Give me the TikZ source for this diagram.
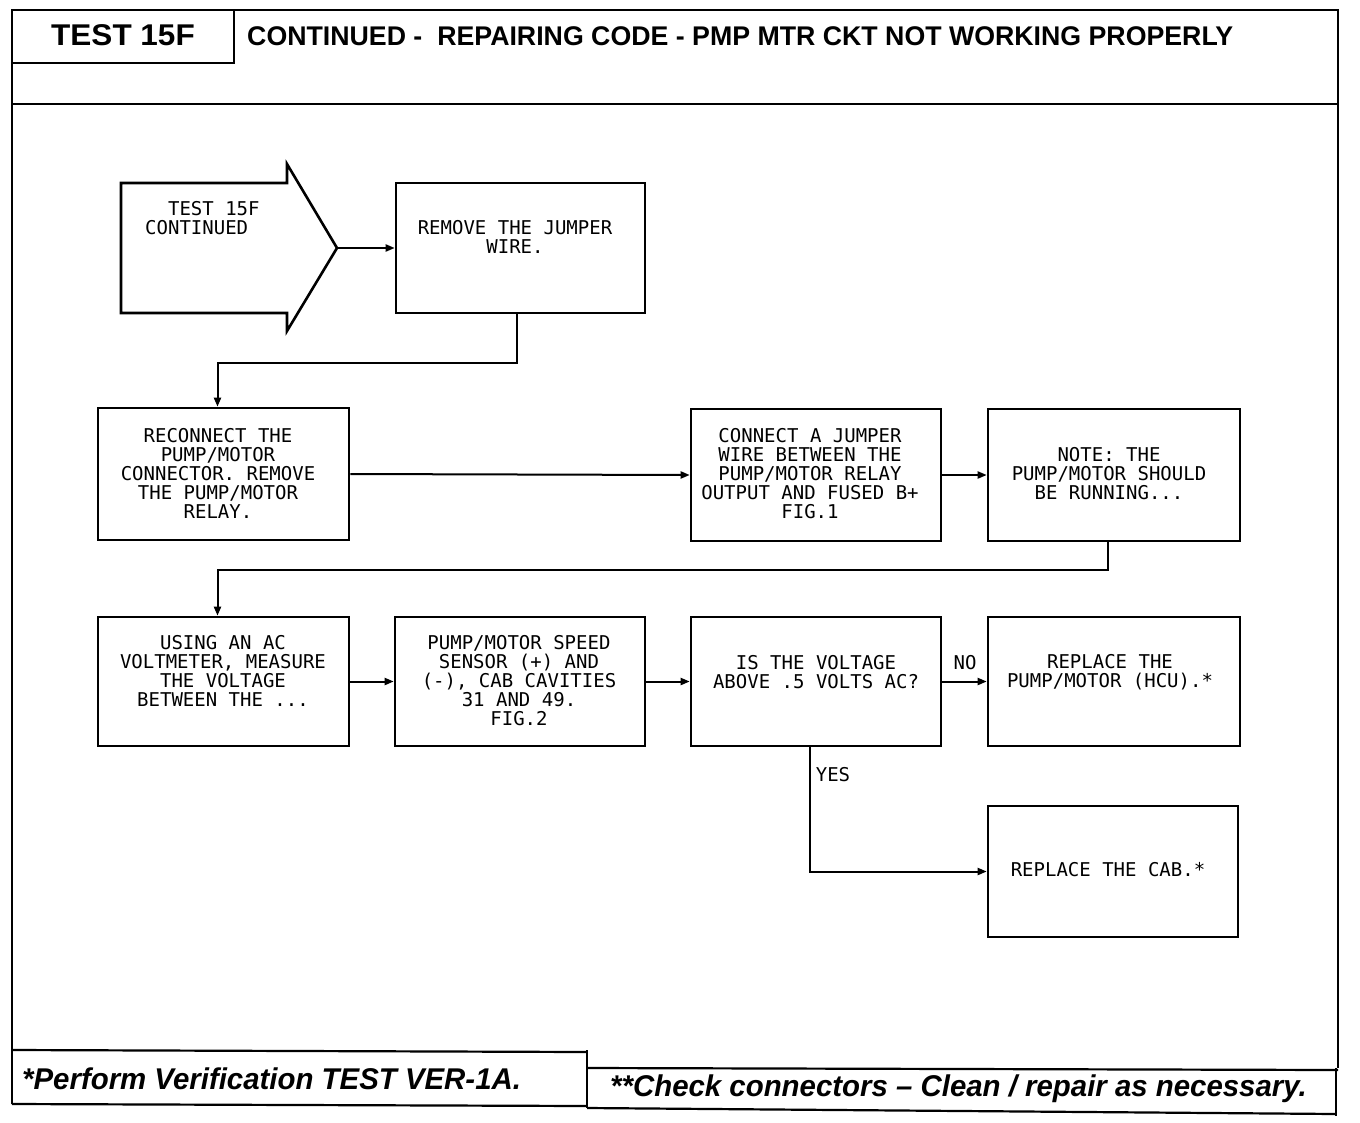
\documentclass[tikz,border=0pt]{standalone}
\usepackage{fontspec}
\usetikzlibrary{arrows.meta}
\newfontfamily\plotfont{DejaVu Sans Mono}
\newfontfamily\hdrfont{Liberation Sans}
\begin{document}
\begin{tikzpicture}[x=1pt,y=-1pt,
  frame/.style={line width=2.2pt},
  boxst/.style={draw,line width=2.6pt,rectangle,inner sep=0pt},
  conn/.style={line width=2pt,-{Triangle[length=9pt,width=7pt]}},
  txt/.style={font=\plotfont\fontsize{19}{19}\selectfont,align=center,inner sep=0pt},
  lbl/.style={font=\plotfont\fontsize{19}{19}\selectfont,inner sep=0pt}]
\useasboundingbox (0,0) rectangle (1360,1122);
% frame
\draw[frame] (12,1104) -- (12,10) -- (1338,10) -- (1338,1068);
\draw[frame] (12,104) -- (1338,104);
\draw[frame] (12,63) -- (234,63) -- (234,10);
% footer
\draw[frame] (12,1050) -- (587,1052);
\draw[frame] (12,1104) -- (587,1106);
\draw[frame] (587,1050) -- (587,1108);
\draw[frame] (587,1068) -- (1338,1070);
\draw[frame] (587,1108) -- (1336,1114);
\draw[frame] (1336,1068) -- (1336,1116);
\node[font=\hdrfont\bfseries\fontsize{30}{30}\selectfont,inner sep=0pt] (hdr) at (123,35) {\scalebox{1.05}[1]{TEST 15F}};
\node[font=\hdrfont\bfseries\fontsize{27}{27}\selectfont,inner sep=0pt,anchor=west] (title) at (247,36) {\scalebox{0.99}[1]{CONTINUED -\ \ REPAIRING CODE - PMP MTR CKT NOT WORKING PROPERLY}};
\node[font=\hdrfont\bfseries\itshape\fontsize{30}{30}\selectfont,inner sep=0pt,anchor=west] (foot1) at (22,1079) {\scalebox{0.98}[1]{*Perform Verification TEST VER-1A.}};
\node[font=\hdrfont\bfseries\itshape\fontsize{30}{30}\selectfont,inner sep=0pt,anchor=west] (foot2) at (610,1089) {\scalebox{0.98}[1]{**Check connectors \textendash{} Clean / repair as necessary.}};
% start arrow
\draw[line width=2.6pt,line join=miter] (121,183) -- (287,183) -- (287,164) -- (337,248) -- (287,331) -- (287,313) -- (121,313) -- cycle;
\coordinate (tip) at (337,248);
\node[txt,anchor=west,align=left] (t0) at (145,218) {\ \ TEST 15F\\CONTINUED};
% boxes
\node[boxst,minimum width=249,minimum height=130] (b1) at (520.5,248) {};
\node[boxst,minimum width=251,minimum height=132] (b2) at (223.5,474) {};
\node[boxst,minimum width=250,minimum height=132] (b3) at (816,475) {};
\node[boxst,minimum width=252,minimum height=132] (b4) at (1114,475) {};
\node[boxst,minimum width=251,minimum height=129] (b5) at (223.5,681.5) {};
\node[boxst,minimum width=250,minimum height=129] (b6) at (520,681.5) {};
\node[boxst,minimum width=250,minimum height=129] (b7) at (816,681.5) {};
\node[boxst,minimum width=252,minimum height=129] (b8) at (1114,681.5) {};
\node[boxst,minimum width=250,minimum height=131] (b9) at (1113,871.5) {};
% texts
\node[txt] (t1) at (515,237) {REMOVE THE JUMPER\\WIRE.};
\node[txt] (t2) at (218,473) {RECONNECT THE\\PUMP/MOTOR\\CONNECTOR. REMOVE\\THE PUMP/MOTOR\\RELAY.};
\node[txt] (t3) at (810,474) {CONNECT A JUMPER\\WIRE BETWEEN THE\\PUMP/MOTOR RELAY\\OUTPUT AND FUSED B+\\FIG.1};
\node[txt] (t4) at (1109,474) {NOTE: THE\\PUMP/MOTOR SHOULD\\BE RUNNING...};
\node[txt] (t5) at (223,671) {USING AN AC\\VOLTMETER, MEASURE\\THE VOLTAGE\\BETWEEN THE ...};
\node[txt] (t6) at (519,681) {PUMP/MOTOR SPEED\\SENSOR (+) AND\\(-), CAB CAVITIES\\31 AND 49.\\FIG.2};
\node[txt] (t7) at (816,672) {IS THE VOLTAGE\\ABOVE .5 VOLTS AC?};
\node[txt] (t8) at (1110,672) {REPLACE THE\\PUMP/MOTOR (HCU).*};
\node[txt] (t9) at (1108,870) {REPLACE THE CAB.*};
% connectors
\draw[conn] (tip) -- (b1.west);
\draw[conn] ([xshift=-4pt]b1.south) -- ++(0,49) -| ([xshift=-6pt]b2.north);
\draw[conn] (b2.east) -- (b3.west);
\draw[conn] (b3.east) -- (b4.west);
\draw[conn] ([xshift=-6pt]b4.south) -- ++(0,28) -| ([xshift=-6pt]b5.north);
\draw[conn] (b5.east) -- (b6.west);
\draw[conn] (b6.east) -- (b7.west);
\draw[conn] (b7.east) -- (b8.west);
\draw[conn] ([xshift=-6pt]b7.south) |- (b9.west);
\node[lbl] (no) at (965,663) {NO};
\node[lbl] (yes) at (833,775) {YES};
\end{tikzpicture}
\end{document}
